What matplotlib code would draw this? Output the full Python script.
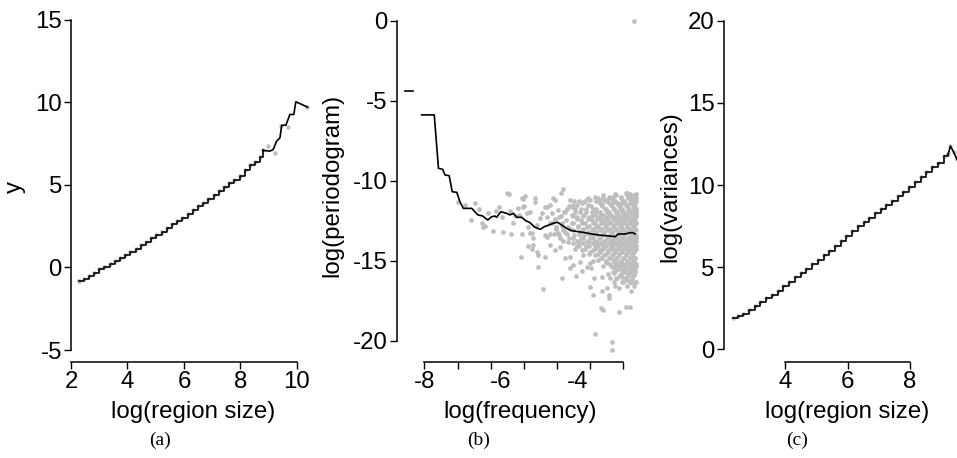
import matplotlib
matplotlib.use("Agg")
import matplotlib.pyplot as plt

plt.rcParams['font.family'] = ['Liberation Sans', 'DejaVu Sans']
plt.rcParams['axes.unicode_minus'] = False

W, H = 957, 458
GRAY = '#bebebe'
FS = 17.3

# ---------------- panel (a): y vs log(region size)
a_step_x = [2.29, 2.45, 2.63, 2.82, 3.00, 3.18, 3.37, 3.55, 3.74, 3.92, 4.10, 4.29, 4.47,
            4.66, 4.84, 5.02, 5.21, 5.39, 5.58, 5.76, 5.94, 6.13, 6.31, 6.50, 6.68, 6.86,
            7.05, 7.23, 7.42, 7.60, 7.78, 7.97, 8.15, 8.34, 8.52, 8.70, 8.81]
a_step_y = [-0.79, -0.70, -0.52, -0.32, -0.12, 0.05, 0.22, 0.40, 0.57, 0.76, 0.95, 1.15, 1.36,
            1.56, 1.78, 1.97, 2.17, 2.39, 2.61, 2.80, 3.02, 3.25, 3.48, 3.70, 3.93, 4.17,
            4.42, 4.65, 4.89, 5.13, 5.33, 5.55, 5.92, 6.20, 6.42, 6.70, 7.09]
a_tail_x = [8.81, 9.04, 9.16, 9.28, 9.40, 9.46, 9.61, 9.75, 9.89, 9.96, 10.17, 10.37]
a_tail_y = [7.09, 7.05, 7.15, 7.65, 7.86, 8.62, 8.62, 9.27, 9.27, 10.04, 9.88, 9.72]
a_pts_x = [2.29, 8.98, 9.22, 9.45, 9.69, 10.37]
a_pts_y = [-0.79, 7.35, 6.95, 8.60, 8.53, 9.70]

# ---------------- panel (b): log(periodogram) vs log(frequency)
b_line_x = [-8.07, -7.74, -7.63, -7.52, -7.46, -7.35, -7.27, -7.15, -7.07, -6.98, -6.76, -6.60,
            -6.48, -6.34, -6.24, -6.15, -6.11, -6.00, -5.85, -5.76, -5.67, -5.58, -5.45, -5.35,
            -5.24, -5.11, -4.97, -4.86, -4.74, -4.63, -4.52, -4.41, -4.28, -4.15, -3.97, -3.80,
            -3.62, -3.45, -3.28, -3.15, -3.01, -2.93, -2.75, -2.62, -2.54, -2.49]
b_line_y = [-5.89, -5.89, -9.23, -9.29, -9.64, -9.69, -10.69, -10.73, -11.31, -11.73, -11.73, -12.14,
            -12.20, -12.46, -12.25, -12.21, -12.29, -11.94, -12.04, -12.14, -12.04, -12.29, -12.29, -12.50,
            -12.62, -12.91, -13.04, -12.87, -12.77, -12.66, -12.60, -12.77, -12.98, -13.12, -13.19, -13.25,
            -13.33, -13.39, -13.43, -13.46, -13.50, -13.33, -13.33, -13.25, -13.25, -13.33]
b_dash_x = [-8.50, -8.29]
b_dash_y = [-4.39, -4.39]

b_pts_x = [-7.11, -6.94, -6.68, -6.79, -6.56, -6.50, -6.41, -6.33, -6.20, -6.13, -6.04, -5.98,
           -5.93, -5.85, -5.78, -5.76, -5.73, -5.67, -5.63, -5.54, -5.52, -5.45, -5.48, -5.43,
           -5.37, -5.39, -5.31, -5.25, -5.28, -5.17, -5.15, -5.19, -5.11, -5.11, -5.05, -5.02,
           -5.04, -5.06, -5.45, -5.41, -5.24, -5.28, -5.19, -6.46,
           -4.37, -4.43, -4.63, -4.71, -4.84, -4.93, -4.19, -4.15, -4.02, -3.84, -3.67, -3.45,
           -3.23, -3.06, -2.71, -2.58, -2.84, -2.49, -3.80, -3.32, -3.01, -2.73, -2.67,
           -4.80, -4.71, -4.84, -4.58, -4.45, -4.32, -4.19, -4.10, -3.93, -3.67, -3.45, -3.23,
           -3.06, -2.88, -2.71, -2.54, -4.80, -4.58, -4.50, -4.32, -4.98, -4.80, -4.67, -4.84,
           -4.71, -4.50,
           -4.89, -4.41, -4.19, -4.03, -3.88, -3.75, -3.65, -3.56, -3.67, -3.60, -3.36, -3.36,
           -3.23, -3.14, -3.16, -3.16, -3.01, -2.90, -3.04, -2.84, -2.71, -2.62, -2.60, -3.39,
           -3.32, -2.90, -2.73, -2.62, -3.54, -3.10, -3.10, -2.52]
b_pts_y = [-11.31, -11.52, -11.38, -12.46, -11.79, -12.66, -12.83, -12.04, -13.14, -11.88, -11.66, -12.25,
           -13.23, -10.75, -10.83, -11.88, -13.35, -12.66, -12.21, -11.73, -12.14, -13.33, -14.75, -11.16,
           -10.96, -11.58, -12.04, -13.29, -14.08, -13.60, -14.02, -14.29, -11.10, -11.31, -14.44, -14.64,
           -15.38, -12.77, -11.10, -11.63, -11.94, -12.87, -13.29, -12.87,
           -10.54, -10.79, -11.10, -11.52, -11.63, -12.04, -11.21, -11.63, -11.52, -11.31, -11.21, -11.10,
           -11.21, -11.00, -10.79, -11.21, -11.41, -11.63, -11.25, -11.10, -11.31, -10.75, -11.10,
           -13.50, -14.02, -14.79, -14.33, -14.13, -14.85, -14.75, -15.27, -15.06, -15.16, -14.96, -15.16,
           -15.38, -15.06, -15.27, -15.16, -11.63, -11.21, -11.83, -11.94, -12.35, -12.25, -12.04, -13.39,
           -13.33, -13.25,
           -16.77, -16.06, -15.48, -15.94, -15.64, -15.38, -15.44, -16.06, -16.63, -17.14, -16.00, -16.89,
           -16.73, -16.10, -17.14, -17.35, -16.56, -16.69, -15.79, -16.00, -16.21, -15.79, -16.88, -17.94,
           -18.08, -18.23, -17.89, -17.89, -19.58, -20.10, -20.58, 0.00]

# dense part of the cloud, row by row (log periodogram, log frequencies)
b_cloud_rows = [
    (-10.85, [-3.02, -2.62, -2.47]),
    (-11.05, [-3.55, -3.18, -2.86, -2.55]),
    (-11.30, [-3.95, -3.40, -3.08, -2.78, -2.60, -2.46]),
    (-11.50, [-4.10, -3.72, -3.35, -3.12, -2.93, -2.72, -2.53]),
    (-11.75, [-4.28, -3.90, -3.60, -3.28, -3.05, -2.88, -2.68, -2.50]),
    (-11.95, [-4.05, -3.78, -3.50, -3.22, -3.00, -2.82, -2.64, -2.47]),
    (-12.20, [-4.42, -4.12, -3.85, -3.62, -3.40, -3.17, -2.97, -2.78, -2.60, -2.46]),
    (-12.40, [-4.58, -4.00, -3.72, -3.48, -3.28, -3.08, -2.90, -2.72, -2.55]),
    (-12.65, [-4.72, -4.40, -4.15, -3.88, -3.60, -3.38, -3.18, -2.98, -2.80, -2.63, -2.48]),
    (-12.90, [-4.55, -4.25, -3.98, -3.74, -3.50, -3.27, -3.06, -2.88, -2.70, -2.53]),
    (-13.10, [-4.38, -4.10, -3.85, -3.62, -3.40, -3.20, -3.00, -2.82, -2.64, -2.47]),
    (-13.35, [-4.60, -4.28, -3.95, -3.70, -3.52, -3.30, -3.10, -2.92, -2.75, -2.58]),
    (-13.60, [-4.45, -4.12, -3.86, -3.60, -3.40, -3.18, -2.98, -2.80, -2.62, -2.47]),
    (-13.85, [-4.25, -3.95, -3.70, -3.48, -3.27, -3.06, -2.88, -2.70, -2.54]),
    (-14.10, [-4.02, -3.78, -3.55, -3.33, -3.12, -2.94, -2.77, -2.60, -2.47]),
    (-14.35, [-3.88, -3.60, -3.40, -3.20, -3.01, -2.84, -2.67, -2.52]),
    (-14.60, [-3.70, -3.45, -3.25, -3.06, -2.90, -2.73, -2.57]),
    (-14.85, [-3.35, -3.12, -2.95, -2.78, -2.62, -2.48]),
    (-15.10, [-3.25, -3.02, -2.85, -2.68, -2.53]),
    (-15.35, [-3.13, -2.92, -2.74, -2.58, -2.46]),
    (-15.60, [-2.98, -2.80, -2.63, -2.50]),
    (-15.85, [-3.20, -2.86, -2.68, -2.52]),
    (-16.10, [-2.95, -2.74, -2.56]),
    (-16.35, [-3.05, -2.80, -2.60, -2.47]),
    (-10.90, [-3.33, -2.98, -2.71, -2.52]),
    (-11.08, [-3.71, -3.12, -2.87, -2.64, -2.47]),
    (-11.25, [-4.08, -3.52, -3.27, -3.01, -2.80, -2.58]),
    (-11.42, [-3.88, -3.41, -3.18, -2.93, -2.76, -2.62, -2.49]),
    (-11.60, [-4.22, -3.64, -3.36, -3.09, -2.89, -2.70, -2.55]),
    (-11.78, [-4.05, -3.77, -3.52, -3.24, -3.03, -2.84, -2.66, -2.51, -2.46]),
    (-11.95, [-4.34, -3.92, -3.61, -3.41, -3.16, -2.97, -2.79, -2.60, -2.48]),
    (-12.12, [-4.15, -3.82, -3.55, -3.33, -3.12, -2.93, -2.74, -2.57, -2.47]),
    (-12.30, [-4.48, -4.02, -3.70, -3.47, -3.26, -3.05, -2.86, -2.69, -2.53]),
    (-12.48, [-4.29, -3.91, -3.62, -3.39, -3.19, -2.99, -2.81, -2.64, -2.49]),
    (-12.66, [-4.66, -4.10, -3.80, -3.55, -3.31, -3.11, -2.92, -2.76, -2.58, -2.46]),
    (-12.84, [-4.41, -3.98, -3.69, -3.46, -3.24, -3.04, -2.87, -2.70, -2.54]),
    (-13.02, [-4.56, -4.18, -3.86, -3.60, -3.38, -3.17, -2.98, -2.80, -2.63, -2.48]),
    (-13.20, [-4.33, -3.94, -3.73, -3.50, -3.29, -3.09, -2.91, -2.74, -2.57]),
    (-13.38, [-4.47, -4.08, -3.82, -3.58, -3.36, -3.14, -2.95, -2.78, -2.61, -2.47]),
    (-13.56, [-4.21, -3.90, -3.66, -3.44, -3.23, -3.03, -2.85, -2.68, -2.52]),
    (-13.74, [-4.38, -4.00, -3.76, -3.53, -3.31, -3.11, -2.92, -2.75, -2.58, -2.46]),
    (-13.92, [-4.12, -3.84, -3.60, -3.38, -3.17, -2.98, -2.81, -2.64, -2.50]),
    (-14.10, [-3.95, -3.70, -3.47, -3.26, -3.06, -2.88, -2.71, -2.55]),
    (-14.28, [-4.06, -3.79, -3.55, -3.33, -3.13, -2.94, -2.77, -2.60, -2.47]),
    (-14.46, [-3.67, -3.42, -3.21, -3.02, -2.84, -2.67, -2.52]),
    (-14.64, [-3.86, -3.53, -3.30, -3.09, -2.90, -2.73, -2.57]),
    (-14.82, [-3.39, -3.17, -2.98, -2.80, -2.63, -2.49]),
    (-15.00, [-3.58, -3.26, -3.05, -2.86, -2.69, -2.54]),
    (-15.18, [-3.14, -2.93, -2.75, -2.59, -2.47]),
    (-15.36, [-3.33, -3.02, -2.83, -2.66, -2.51]),
    (-15.54, [-2.91, -2.72, -2.56]),
    (-15.72, [-3.08, -2.79, -2.62, -2.48]),
    (-15.90, [-2.88, -2.68, -2.53]),
    (-16.10, [-3.00, -2.73, -2.58]),
    (-16.30, [-2.84, -2.63, -2.49]),
    (-16.55, [-2.70, -2.52]),
]
b_tick_pos = [-8.0, -7.127, -6.256, -5.385, -4.539, -3.668, -2.797]
b_tick_lab = [-8, -6, -4]

# ---------------- panel (c): log(variances) vs log(region size)
c_step_x = [2.31, 2.47, 2.65, 2.84, 3.02, 3.20, 3.39, 3.57, 3.76, 3.94, 4.12, 4.31, 4.49,
            4.68, 4.86, 5.04, 5.23, 5.41, 5.60, 5.78, 5.96, 6.15, 6.33, 6.52, 6.70, 6.88,
            7.07, 7.25, 7.44, 7.62, 7.80, 7.99, 8.17, 8.36, 8.54, 8.72, 8.90, 9.09, 9.24]
c_step_y = [1.89, 2.00, 2.18, 2.40, 2.62, 2.86, 3.10, 3.33, 3.58, 3.88, 4.12, 4.40, 4.65,
            4.92, 5.18, 5.45, 5.72, 6.00, 6.30, 6.60, 6.92, 7.20, 7.50, 7.76, 8.02, 8.27,
            8.54, 8.80, 9.05, 9.35, 9.60, 9.90, 10.18, 10.50, 10.82, 11.10, 11.35, 11.75, 11.90]
c_tail_x = [9.24, 9.31, 9.41, 9.52, 9.65]
c_tail_y = [11.90, 12.37, 12.02, 11.56, 11.20]


def px_axes(fig, left, right, top, bottom):
    return fig.add_axes([left / W, 1 - bottom / H, (right - left) / W, (bottom - top) / H])


def style(ax, xb, yb):
    for s in ['top', 'right']:
        ax.spines[s].set_visible(False)
    ax.spines['left'].set_bounds(*yb)
    ax.spines['bottom'].set_bounds(*xb)
    for s in ['left', 'bottom']:
        ax.spines[s].set_linewidth(1.1)
    ax.tick_params(direction='out', length=5, width=1.0, labelsize=FS)
    ax.tick_params(axis='x', pad=1.5)
    ax.tick_params(axis='y', pad=1.5)


fig = plt.figure(figsize=(W / 100, H / 100), dpi=100)

# (a)
ax = px_axes(fig, 71, 315, 12, 362)
ax.plot(a_step_x, a_step_y, 'o', color=GRAY, ms=3.2, mec='none')
ax.plot(a_pts_x, a_pts_y, 'o', color=GRAY, ms=3.2, mec='none')
ax.plot(a_step_x, a_step_y, color='black', lw=1.2, drawstyle='steps-post')
ax.plot(a_tail_x, a_tail_y, color='black', lw=1.2)
ax.set_xlim(2.0, 10.64)
ax.set_ylim(-5.727, 15.48)
ax.set_xticks([2, 4, 6, 8, 10])
ax.set_yticks([-5, 0, 5, 10, 15])
style(ax, (2, 10), (-5, 15))
ax.set_xlabel('log(region size)', fontsize=FS, va='center')
ax.set_ylabel('y', fontsize=FS, va='center')
ax.xaxis.set_label_coords(0.5, (362 - 412) / 350)
ax.yaxis.set_label_coords((15 - 71) / 244, 0.5)

# (b)
ax = px_axes(fig, 396.7, 643.5, 8, 362)
cx, cy = [], []
for yv, xs in b_cloud_rows:
    cx += xs
    cy += [yv] * len(xs)
ax.plot(b_pts_x, b_pts_y, 'o', color=GRAY, ms=3.4, mec='none')
ax.plot(cx, cy, 'o', color=GRAY, ms=3.4, mec='none')
ax.plot(b_line_x, b_line_y, color='black', lw=1.2)
ax.plot(b_dash_x, b_dash_y, color='black', lw=1.2)
ax.set_xlim(-8.7216, -2.27)
ax.set_ylim(-21.33, 0.79)
ax.xaxis.remove_overlapping_locs = False
ax.set_xticks(b_tick_pos, labels=[''] * len(b_tick_pos))
ax.set_xticks(b_tick_lab, labels=[str(v) for v in b_tick_lab], minor=True)
ax.set_yticks([-20, -15, -10, -5, 0])
style(ax, (b_tick_pos[0], b_tick_pos[-1]), (-20, 0))
ax.tick_params(axis='x', which='minor', length=0, pad=1.5 + 5, labelsize=FS)
ax.set_xlabel('log(frequency)', fontsize=FS, va='center')
ax.set_ylabel('log(periodogram)', fontsize=FS, va='center')
ax.xaxis.set_label_coords(0.5, (362 - 412) / 354)
ax.yaxis.set_label_coords((332 - 396.7) / 246.8, 0.5)

# (c)
ax = px_axes(fig, 723.7, 970, 12, 362)
ax.plot(c_step_x, c_step_y, 'o', color=GRAY, ms=3.2, mec='none')
ax.plot(c_tail_x, c_tail_y, 'o', color=GRAY, ms=3.2, mec='none')
ax.plot(c_step_x, c_step_y, color='black', lw=1.2, drawstyle='steps-post')
ax.plot(c_tail_x, c_tail_y, color='black', lw=1.2)
ax.set_xlim(2.019, 9.939)
ax.set_ylim(-0.77, 20.53)
ax.set_xticks([4, 6, 8])
ax.set_yticks([0, 5, 10, 15, 20])
style(ax, (4, 8), (0, 20))
ax.set_xlabel('log(region size)', fontsize=FS, va='center')
ax.set_ylabel('log(variances)', fontsize=FS, va='center')
ax.xaxis.set_label_coords(0.5, (362 - 412) / 350)
ax.yaxis.set_label_coords((670 - 723.7) / 246.3, 0.5)

for cxp, lab in [(159.5, '(a)'), (478.5, '(b)'), (797.5, '(c)')]:
    fig.text(cxp / W, 1 - 440 / H, lab, family='Liberation Serif', fontsize=14,
             ha='center', va='center')

fig.savefig('out.png', dpi=100)
